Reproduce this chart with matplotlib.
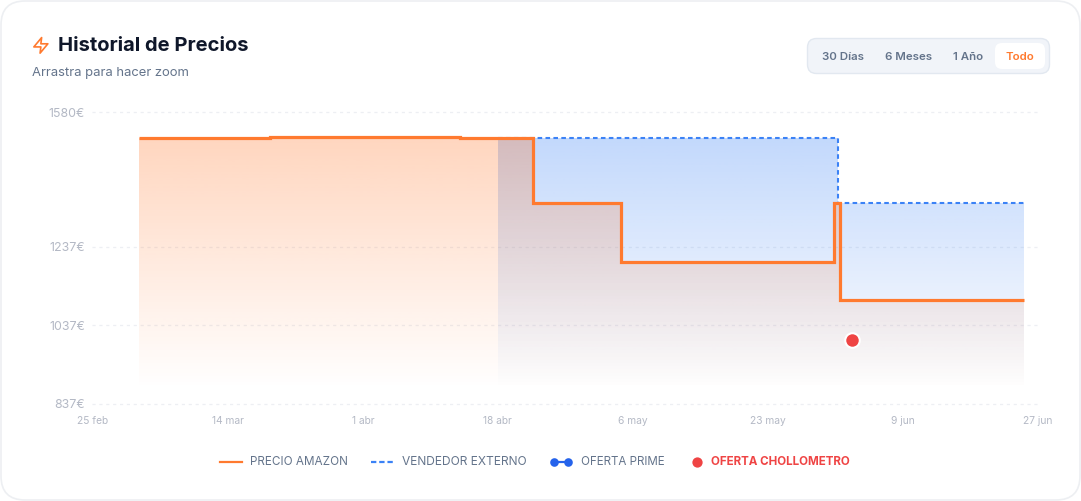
import numpy as np
import pandas as pd
import matplotlib
matplotlib.use("Agg")
import matplotlib.pyplot as plt
import matplotlib.dates as mdates
from matplotlib.lines import Line2D
from matplotlib.patches import FancyBboxPatch, Polygon
from matplotlib.transforms import ScaledTranslation

plt.rcParams['font.family'] = ['Inter', 'DejaVu Sans']

# data
amazon_dates = ["2025-03-03 01:00", "2025-03-20", "2025-04-13 14:00", "2025-04-18 12:00", "2025-04-23 00:00",
                "2025-05-04 08:00", "2025-05-31 21:00", "2025-06-01 16:00", "2025-06-25 08:00"]
amazon_prices = [1515, 1517.5, 1515, 1514, 1349, 1199.5, 1349, 1100, 1100]
seller_dates = ["2025-04-18 12:00", "2025-06-01 10:00", "2025-06-25 08:00"]
seller_prices = [1515, 1349, 1349]
deal_date = ["2025-06-03 04:00"]
deal_price = [999]
y_ticks = [837, 1037, 1237, 1580]
x_labels = ["25 feb", "14 mar", "1 abr", "18 abr", "6 may", "23 may", "9 jun", "27 jun"]
x_start = "2025-02-25"
x_end = "2025-06-27"

ORANGE = "#FF7A2F"
BLUE = "#3B82F6"
RED = "#EF4444"
SLATE = "#64748B"
TICK = "#B4B9C5"

W, H = 1081, 501
fig = plt.figure(figsize=(W / 100, H / 100), dpi=100, facecolor="white")


def px(size):
    return size * 0.72


def to_num(dates):
    return mdates.date2num(pd.to_datetime(dates, format="mixed"))


# card and header live in a pixel-sized layer behind the chart
ui = fig.add_axes([0, 0, 1, 1], zorder=0)
ui.set_xlim(0, W)
ui.set_ylim(H, 0)
ui.axis("off")
ui.add_patch(FancyBboxPatch((1, 1), W - 2, H - 2, boxstyle="round,pad=0,rounding_size=24",
                            fc="white", ec="#EDEFF2", lw=1.2))

# bolt icon
bolt = np.array([[13, 2], [3, 14], [12, 14], [11, 22], [21, 10], [12, 10]]) * 0.78 + [31.5, 36]
ui.add_patch(Polygon(bolt, closed=True, fc="none", ec=ORANGE, lw=1.2, joinstyle="round"))
ui.text(58, 46, "Historial de Precios", fontsize=px(20.2), fontweight="bold", color="#0F172A", va="center")
ui.text(32, 73, "Arrastra para hacer zoom", fontsize=px(13), color=SLATE, va="center")

# range selector
ui.add_patch(FancyBboxPatch((807.5, 38.5), 242, 35, boxstyle="round,pad=0,rounding_size=9",
                            fc="#F1F4F9", ec="#E2E8F0", lw=1))
ui.add_patch(FancyBboxPatch((995, 43), 50, 26, boxstyle="round,pad=0,rounding_size=7",
                            fc="white", ec="none"))
for cx, label, col in [(843, "30 Días", SLATE), (909, "6 Meses", SLATE), (968.5, "1 Año", SLATE), (1020, "Todo", ORANGE)]:
    ui.text(cx, 56.5, label, fontsize=px(11.5), fontweight=600, color=col, ha="center", va="center")

# legend
ui.add_line(Line2D([220, 242], [462, 462], color=ORANGE, lw=1.6))
ui.text(250, 462, "PRECIO AMAZON", fontsize=px(11.7), color=SLATE, va="center")
ui.add_line(Line2D([371, 393], [462, 462], color=BLUE, lw=1.6, dashes=(2.4, 1.3)))
ui.text(402, 462, "VENDEDOR EXTERNO", fontsize=px(11.95), color=SLATE, va="center")
ui.add_line(Line2D([554, 568], [462, 462], color="#2563EB", lw=1.6, marker="o", ms=6.2, mew=0))
ui.text(581, 462, "OFERTA PRIME", fontsize=px(11.6), color=SLATE, va="center")
ui.add_line(Line2D([696.5], [462], color=RED, marker="o", ms=7.4, mew=0, ls="none"))
ui.text(711, 462, "OFERTA CHOLLOMETRO", fontsize=px(11.6), fontweight="bold", color=RED, va="center")

# chart
ax = fig.add_axes([92 / W, 1 - 403.5 / H, (1036.5 - 92) / W, (403.5 - 112.5) / H], zorder=1)
ax.patch.set_alpha(0)
for s in ax.spines.values():
    s.set_visible(False)

amazon_x = to_num(amazon_dates)
seller_x = to_num(seller_dates)
deal_x = to_num(deal_date)
x0, x1 = to_num([x_start, x_end])

fade_top, fade_bottom = 1517.5, 874


def gradient_fill(x, y, color, alpha, z):
    # vertical fade under a step line, clipped to the step outline
    poly = ax.fill_between(x, y, fade_bottom, step="post", fc="none", ec="none")
    rgba = np.ones((256, 1, 4))
    rgba[:, :, :3] = matplotlib.colors.to_rgb(color)
    rgba[:, 0, 3] = np.linspace(alpha, 0.0, 256)
    im = ax.imshow(rgba, extent=(x[0], x[-1], fade_bottom, fade_top), aspect="auto",
                   origin="upper", zorder=z, interpolation="bilinear")
    im.set_clip_path(poly.get_paths()[0], ax.transData)


gradient_fill(seller_x, seller_prices, BLUE, 0.31, 1)
gradient_fill(amazon_x, amazon_prices, ORANGE, 0.31, 2)

ax.plot(seller_x, seller_prices, drawstyle="steps-post", color=BLUE, lw=1.5, dashes=(2.2, 1.6), zorder=3)
ax.plot(amazon_x, amazon_prices, drawstyle="steps-post", color=ORANGE, lw=2.3, zorder=4,
        solid_joinstyle="miter", solid_capstyle="butt")
ax.scatter(deal_x, deal_price, s=110, color=RED, edgecolors="white", linewidths=1.5, zorder=5)

ax.set_xlim(x0, x1)
ax.set_ylim(y_ticks[0], y_ticks[-1])
ax.set_yticks(y_ticks)
ax.set_yticklabels([f"{v}€" for v in y_ticks], fontsize=px(12.4), color=TICK)
ax.set_xticks(np.linspace(x0, x1, len(x_labels)))
ax.set_xticklabels(x_labels, fontsize=px(10.2), color=TICK)
ax.tick_params(axis="both", length=0)
ax.tick_params(axis="y", pad=px(7))
ax.tick_params(axis="x", pad=px(13))
# date labels sit one pixel right of their ticks
nudge = ScaledTranslation(1 / 100, 0, fig.dpi_scale_trans)
for lab in ax.get_xticklabels():
    lab.set_transform(lab.get_transform() + nudge)
ax.grid(axis="y", color="#EDEFF3", lw=0.9, dashes=(2.5, 3), clip_on=False, zorder=0.5)
ax.grid(axis="x", visible=False)
ax.set_axisbelow(True)

fig.savefig("out.png", dpi=100)
